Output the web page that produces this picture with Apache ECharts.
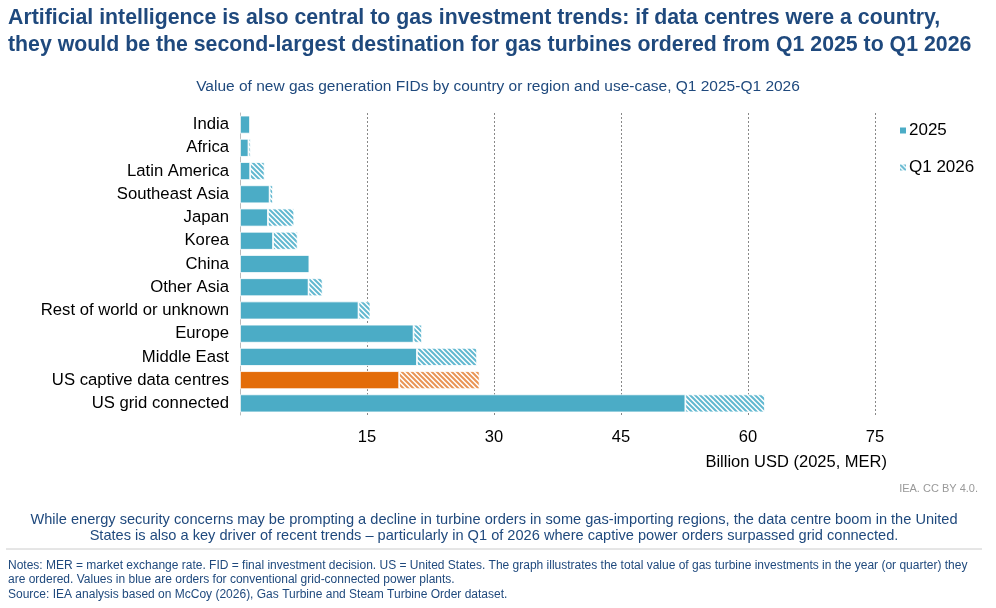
<!DOCTYPE html>
<html>
<head>
<meta charset="utf-8">
<script src="https://cdn.jsdelivr.net/npm/echarts@6/dist/echarts.min.js"></script>
<style>
  html, body { margin: 0; padding: 0; background: #fff; }
  #chart { width: 996px; height: 608px; }
</style>
</head>
<body>
<div id="chart"></div>
<script>
// 数据
var categories = ['India', 'Africa', 'Latin America', 'Southeast Asia', 'Japan', 'Korea', 'China',
  'Other Asia', 'Rest of world or unknown', 'Europe', 'Middle East', 'US captive data centres', 'US grid connected'];
var values2025 = [1.2, 1.0, 1.2, 3.5, 3.3, 3.9, 8.2, 8.1, 14.0, 20.5, 20.9, 18.8, 52.6];
var valuesQ12026 = [0, 0.25, 1.7, 0.4, 3.1, 2.9, 0, 1.65, 1.4, 1.0, 7.1, 9.5, 9.4];
var xTicks = [15, 30, 45, 60, 75];

var blue = '#4bacc6';
var orange = '#e36c09';
var darkBlue = '#1f497d';
var font = 'Liberation Sans, Arial, sans-serif';

// 斜线填充
function makeHatch(color) {
  var c = document.createElement('canvas');
  c.width = 5;
  c.height = 5;
  var ctx = c.getContext('2d');
  ctx.fillStyle = '#fff';
  ctx.fillRect(0, 0, 5, 5);
  ctx.strokeStyle = color;
  ctx.lineWidth = 2;
  ctx.beginPath();
  ctx.moveTo(-1, -1); ctx.lineTo(6, 6);
  ctx.moveTo(-1, 4); ctx.lineTo(1, 6);
  ctx.moveTo(4, -1); ctx.lineTo(6, 1);
  ctx.stroke();
  return { image: c, repeat: 'repeat' };
}
var blueHatch = makeHatch('#62b8d0');
var orangeHatch = makeHatch('#e99455');

var captiveIndex = categories.indexOf('US captive data centres');

var chart = echarts.init(document.getElementById('chart'));

var option = {
  animation: false,
  textStyle: { fontFamily: font },
  title: [
    {
      text: 'Artificial intelligence is also central to gas investment trends: if data centres were a country,\nthey would be the second-largest destination for gas turbines ordered from Q1 2025 to Q1 2026',
      left: 8,
      top: 5,
      padding: 0,
      textStyle: { color: darkBlue, fontSize: 21.3, fontWeight: 'bold', lineHeight: 27 }
    },
    {
      text: 'Value of new gas generation FIDs by country or region and use-case, Q1 2025-Q1 2026',
      left: 'center',
      top: 74,
      textStyle: { color: darkBlue, fontSize: 15.5, fontWeight: 'normal' }
    }
  ],
  legend: {
    orient: 'vertical',
    left: 893,
    top: 117,
    itemWidth: 8,
    itemHeight: 8,
    itemGap: 20,
    icon: 'rect',
    textStyle: { fontSize: 17, color: '#000', padding: [0, 0, 0, -3] },
    data: ['2025', 'Q1 2026']
  },
  grid: {
    left: 240,
    right: 121,
    top: 113,
    bottom: 193,
    containLabel: false
  },
  xAxis: {
    type: 'value',
    min: 0,
    max: 75,
    interval: 15,
    axisLine: { show: false },
    axisTick: { show: false },
    axisLabel: {
      fontSize: 16.5,
      color: '#000',
      margin: 14,
      formatter: function (v) {
        return xTicks.indexOf(v) >= 0 ? v : '';
      }
    },
    splitLine: {
      show: true,
      lineStyle: { color: '#888', type: [2, 2], width: 1 }
    }
  },
  yAxis: {
    type: 'category',
    data: categories,
    inverse: true,
    axisLine: { show: true, lineStyle: { color: '#bbb' } },
    axisTick: { show: false },
    axisLabel: { fontSize: 16.7, color: '#000', margin: 11 }
  },
  series: [
    {
      name: '2025',
      type: 'bar',
      stack: 'total',
      barWidth: 18,
      itemStyle: { color: blue, borderColor: '#fff', borderWidth: 0.8 },
      data: values2025.map(function (v, i) {
        return i === captiveIndex ? { value: v, itemStyle: { color: orange } } : v;
      })
    },
    {
      name: 'Q1 2026',
      type: 'bar',
      stack: 'total',
      barWidth: 18,
      itemStyle: { color: blueHatch, borderColor: '#fff', borderWidth: 0.8 },
      data: valuesQ12026.map(function (v, i) {
        return i === captiveIndex ? { value: v, itemStyle: { color: orangeHatch } } : v;
      })
    }
  ],
  graphic: [
    {
      type: 'text', right: 109, top: 454,
      style: { text: 'Billion USD (2025, MER)', fontSize: 16.5, fill: '#000', fontFamily: font }
    },
    {
      type: 'text', right: 18, top: 483,
      style: { text: 'IEA. CC BY 4.0.', fontSize: 11, fill: '#999', fontFamily: font }
    },
    {
      type: 'text', x: 494, y: 512,
      style: {
        text: 'While energy security concerns may be prompting a decline in turbine orders in some gas-importing regions, the data centre boom in the United',
        fontSize: 14.6, fill: darkBlue, align: 'center', fontFamily: font
      }
    },
    {
      type: 'text', x: 494, y: 528,
      style: {
        text: 'States is also a key driver of recent trends \u2013 particularly in Q1 of 2026 where captive power orders surpassed grid connected.',
        fontSize: 14.6, fill: darkBlue, align: 'center', fontFamily: font
      }
    },
    {
      type: 'line',
      shape: { x1: 6, y1: 549, x2: 982, y2: 549 },
      style: { stroke: '#ccc', lineWidth: 1 }
    },
    {
      type: 'text', left: 8, top: 558,
      style: {
        text: 'Notes: MER = market exchange rate. FID = final investment decision. US = United States. The graph illustrates the total value of gas turbine investments in the year (or quarter) they\nare ordered. Values in blue are orders for conventional grid-connected power plants.\nSource: IEA analysis based on McCoy (2026), Gas Turbine and Steam Turbine Order dataset.',
        fontSize: 12, lineHeight: 14.5, fill: darkBlue,
        fontFamily: font
      }
    }
  ]
};

chart.setOption(option);

window.addEventListener('resize', function () {
  chart.resize();
});
</script>
</body>
</html>
